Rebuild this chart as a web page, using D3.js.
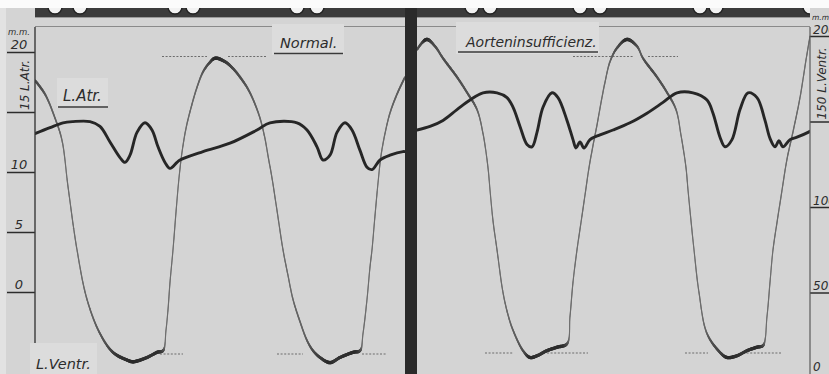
<!DOCTYPE html>
<html>
<head>
<meta charset="utf-8">
<script src="https://cdn.jsdelivr.net/npm/d3@7"></script>
<style>
  body { margin: 0; background: #fff; }
  svg { display: block; }
  text { font-family: "DejaVu Sans", sans-serif; font-style: italic; fill: #2c2c2c; }
</style>
</head>
<body>
<svg id="chart" width="829" height="374"></svg>
<script>
// time in ms from the left edge of each record, L.Atr. in mm, L.Ventr. in mm Hg

// "Normal." record
const normalAtrT = [0, 75, 140, 190, 275, 325, 375, 425, 450, 475, 510, 550, 585, 615, 650, 675, 710, 725, 840, 975,
  1110, 1175, 1310, 1360, 1410, 1440, 1475, 1510, 1550, 1585, 1625, 1660, 1685, 1725, 1775, 1840, 1850];
const normalAtr = [13.2, 13.7, 14.1, 14.2, 14.2, 13.8, 12.5, 11.2, 10.8, 11.4, 13.3, 14.1, 13.5, 12.1, 10.8, 10.3, 10.8, 11.0, 11.7, 12.4,
  13.5, 14.1, 14.1, 13.5, 12.1, 11.0, 11.4, 13.3, 14.1, 13.5, 11.8, 10.4, 10.2, 11.0, 11.4, 11.7, 11.7];

const normalVentrT = [0, 50, 100, 135, 165, 210, 260, 325, 390, 460, 490, 560, 610, 640, 655, 665, 675, 690, 705, 720,
  735, 755, 780, 810, 840, 870, 900, 950, 990, 1025, 1060, 1090, 1125, 1150, 1165, 1185, 1210, 1240, 1265, 1290,
  1325, 1360, 1390, 1425, 1475, 1525, 1590, 1625, 1640, 1660, 1675, 1685, 1700, 1715, 1730, 1750, 1775, 1810, 1850];
const normalVentr = [174, 166, 152, 139, 112, 75, 46, 26, 15, 10.5, 9.5, 12, 15, 16, 28, 40, 56, 75, 97, 117,
  132, 146, 158, 170, 179, 184, 187, 185, 181, 176, 170, 163, 152, 140, 130, 117, 98, 75, 60, 46,
  33, 22, 16, 12, 9, 12, 15, 16, 26, 46, 65, 75, 95, 114, 130, 143, 155, 166, 176];

// "Aorteninsufficienz." record
const aortaAtrT = [0, 65, 130, 200, 265, 330, 400, 450, 480, 515, 550, 575, 600, 630, 675, 705, 750, 780, 795, 815,
  835, 865, 915, 980, 1065, 1150, 1230, 1300, 1380, 1450, 1480, 1515, 1540, 1575, 1615, 1655, 1700, 1740, 1765, 1790,
  1810, 1830, 1865, 1900, 1955, 1965];
const aortaAtr = [13.5, 13.8, 14.3, 15.2, 16.0, 16.6, 16.6, 16.2, 15.4, 13.8, 12.3, 12.1, 13.3, 15.4, 16.6, 16.2, 14.3, 12.7, 12.0, 12.5,
  12.0, 12.7, 13.1, 13.5, 14.1, 14.9, 15.8, 16.6, 16.6, 16.0, 14.9, 12.9, 12.1, 12.7, 15.2, 16.6, 16.2, 14.3, 12.8, 12.1,
  12.6, 12.1, 12.7, 12.9, 13.3, 13.4];

const aortaVentrT = [0, 25, 50, 90, 130, 200, 250, 300, 330, 355, 365, 380, 400, 430, 455, 480, 530, 565, 600, 650,
  700, 750, 765, 780, 800, 820, 840, 860, 880, 900, 920, 940, 965, 1000, 1050, 1100, 1130, 1200, 1250, 1295,
  1320, 1345, 1355, 1370, 1385, 1410, 1450, 1515, 1550, 1600, 1650, 1700, 1730, 1750, 1765, 1780, 1800, 1820, 1850, 1880,
  1915, 1945, 1965];
const aortaVentr = [192, 196, 198, 194, 187, 176, 167, 157, 143, 123, 110, 92, 75, 50, 37, 28, 16, 12, 13, 16,
  18, 20, 36, 56, 75, 91, 107, 123, 136, 148, 161, 173, 185, 193, 198, 194, 187, 176, 167, 157,
  142, 123, 110, 92, 75, 50, 26, 15, 12, 13, 16, 18, 19, 36, 56, 75, 91, 106, 128, 144,
  164, 186, 200];

// time marker notches in the strip on top (ms)
const normalMarks = [100, 225, 700, 790, 1310, 1410];
const aortaMarks = [275, 365, 815, 915, 1415, 1495, 1965];

// dotted reference levels of the ventricle trace: [mm Hg, from ms, to ms]
const normalRefs = [[188, 635, 860], [188, 965, 1160], [14, 625, 740], [14, 1210, 1340], [14, 1635, 1760]];
const aortaRefs = [[188, 780, 1080], [188, 1155, 1305], [14.6, 340, 480], [14.6, 650, 855], [14.6, 1340, 1455], [14.6, 1630, 1825]];

const atrTicks = [0, 5, 10, 15, 20];
const ventrTicks = [0, 50, 100, 150, 200];

const svg = d3.select('#chart');
const W = 829, H = 374;

const atrY = d3.scaleLinear().domain([0, 20]).range([292, 52]);
const ventrY = d3.scaleLinear().domain([0, 200]).range([378, 36]);
const xNormal = d3.scaleLinear().domain([0, 1850]).range([35, 405]);
const xAorta = d3.scaleLinear().domain([0, 1965]).range([417, 810]);

// paper
svg.append('rect').attr('width', W).attr('height', H).attr('fill', '#d4d4d4');
svg.append('rect').attr('width', W).attr('height', 8).attr('fill', '#fbfbfb');
svg.append('rect').attr('y', 8).attr('width', 6).attr('height', H).attr('fill', '#e2e2e2');

const defs = svg.append('defs');
defs.append('clipPath').attr('id', 'clipStrip')
  .append('rect').attr('x', 35).attr('y', 8).attr('width', 775).attr('height', 9);
defs.append('clipPath').attr('id', 'clipNormal')
  .append('rect').attr('x', 35).attr('y', 17).attr('width', 370).attr('height', H);
defs.append('clipPath').attr('id', 'clipAorta')
  .append('rect').attr('x', 417).attr('y', 17).attr('width', 393).attr('height', H);

// time strip
svg.append('rect').attr('x', 35).attr('y', 8).attr('width', 775).attr('height', 9).attr('fill', '#3b3b3b');
const strip = svg.append('g').attr('clip-path', 'url(#clipStrip)');
[[normalMarks, xNormal], [aortaMarks, xAorta]].forEach(([marks, x]) => {
  strip.selectAll(null).data(marks).join('circle')
    .attr('cx', d => x(d)).attr('cy', 7).attr('r', 7)
    .attr('fill', '#f2f2f2').attr('stroke', '#222').attr('stroke-width', 1.4);
});
svg.append('line').attr('x1', 35).attr('x2', 810).attr('y1', 17.5).attr('y2', 17.5)
  .attr('stroke', '#9a9a9a').attr('stroke-width', 1);

// thin line under the strip
svg.append('line').attr('x1', 35).attr('x2', 810).attr('y1', 26.5).attr('y2', 26.5)
  .attr('stroke', '#8a8a8a').attr('stroke-width', 1.2);

function drawRefs(g, x, refs) {
  g.selectAll(null).data(refs).join('line')
    .attr('x1', d => x(d[1])).attr('x2', d => x(d[2]))
    .attr('y1', d => ventrY(d[0])).attr('y2', d => ventrY(d[0]))
    .attr('stroke', '#6c6c6c').attr('stroke-width', 1.1).attr('stroke-dasharray', '2,1.6');
}

function drawAtr(g, x, t, v) {
  const line = d3.line().x((d, i) => x(t[i])).y(d => atrY(d)).curve(d3.curveCatmullRom.alpha(0.5));
  g.append('path').attr('d', line(v)).attr('fill', 'none')
    .attr('stroke', '#262626').attr('stroke-width', 2.9)
    .attr('stroke-linejoin', 'round').attr('stroke-linecap', 'round');
}

// the ventricle pen writes darker where it moves slowly
function drawVentr(g, x, t, v) {
  const line = d3.line().x((d, i) => x(t[i])).y(d => ventrY(d)).curve(d3.curveCatmullRom.alpha(0.5));
  const node = g.append('path').attr('d', line(v)).attr('fill', 'none').attr('stroke', 'none').node();
  const len = node.getTotalLength();
  const pts = d3.range(0, len, 1).map(l => node.getPointAtLength(l));
  pts.push(node.getPointAtLength(len));
  const k = 4;
  const segs = d3.pairs(pts).map((p, i) => {
    const a = pts[Math.max(0, i - k)], b = pts[Math.min(pts.length - 1, i + 1 + k)];
    const s = Math.abs(b.y - a.y) / Math.max(Math.abs(b.x - a.x), 0.01);
    const w = 1 / (1 + (s / 1.3) * (s / 1.3));
    return { p, w };
  });
  const col = d3.interpolateRgb('#6e6e6e', '#2a2a2a');
  g.selectAll(null).data(segs).join('line')
    .attr('x1', d => d.p[0].x).attr('y1', d => d.p[0].y)
    .attr('x2', d => d.p[1].x).attr('y2', d => d.p[1].y)
    .attr('stroke', d => col(d.w))
    .attr('stroke-width', d => 1.1 + 2.3 * d.w)
    .attr('stroke-linecap', 'round');
}

const gN = svg.append('g').attr('clip-path', 'url(#clipNormal)');
drawRefs(gN, xNormal, normalRefs);
drawVentr(gN, xNormal, normalVentrT, normalVentr);
drawAtr(gN, xNormal, normalAtrT, normalAtr);

const gA = svg.append('g').attr('clip-path', 'url(#clipAorta)');
drawRefs(gA, xAorta, aortaRefs);
drawVentr(gA, xAorta, aortaVentrT, aortaVentr);
drawAtr(gA, xAorta, aortaAtrT, aortaAtr);

// glued-on labels
function label(x, y, w, h, txt, tx, ty, size, ux0, ux1, uy) {
  const g = svg.append('g');
  g.append('rect').attr('x', x).attr('y', y).attr('width', w).attr('height', h).attr('fill', '#dcdcdc');
  if (uy) g.append('line').attr('x1', ux0).attr('x2', ux1).attr('y1', uy).attr('y2', uy)
    .attr('stroke', '#3a3a3a').attr('stroke-width', 1.3);
  g.append('text').attr('x', tx).attr('y', ty).attr('font-size', size).text(txt);
}
label(272, 24, 72, 31, 'Normal.', 280, 48, 14.5, 274, 343, 53.5);
label(456, 22, 143, 32, 'Aorteninsufficienz.', 466, 47, 14, 458, 598, 52);
label(57, 78, 51, 30, 'L.Atr.', 63, 101, 15, 58, 108, 107);
label(30, 343, 67, 31, 'L.Ventr.', 36, 369, 14.5);

// left axis (L.Atr., mm)
const axL = svg.append('g').attr('transform', 'translate(35,0)')
  .call(d3.axisLeft(atrY).tickValues(atrTicks).tickSize(28).tickSizeOuter(0));
axL.select('.domain').remove();
axL.selectAll('.tick line').attr('stroke', '#2c2c2c').attr('stroke-width', 1.5);
axL.selectAll('.tick text')
  .attr('x', -16).attr('y', -4).attr('dy', 0).attr('text-anchor', 'middle')
  .attr('font-size', 13).attr('font-family', null).attr('fill', null)
  .text(d => d === 15 ? '' : d);
svg.append('line').attr('x1', 35).attr('x2', 35).attr('y1', 27).attr('y2', 343)
  .attr('stroke', '#3a3a3a').attr('stroke-width', 1.4);
svg.append('text').attr('x', 8).attr('y', 35).attr('font-size', 8.5).text('m.m.');
svg.append('text').attr('transform', `translate(29,${atrY(15) - 2}) rotate(-90)`)
  .attr('font-size', 12).text('15 L.Atr.');

// right axis (L.Ventr., mm Hg)
const axR = svg.append('g').attr('transform', 'translate(810,0)')
  .call(d3.axisRight(ventrY).tickValues(ventrTicks).tickSize(19).tickSizeOuter(0));
axR.select('.domain').remove();
axR.selectAll('.tick line').attr('stroke', '#2c2c2c').attr('stroke-width', 1.5);
axR.selectAll('.tick text')
  .attr('x', 3).attr('y', d => d === 0 ? -8 : -3).attr('dy', 0).attr('text-anchor', 'start')
  .attr('font-size', 12).attr('font-family', null).attr('fill', null)
  .text(d => d === 150 ? '' : d);
svg.append('line').attr('x1', 810).attr('x2', 810).attr('y1', 27).attr('y2', H)
  .attr('stroke', '#5a5a5a').attr('stroke-width', 1.2);
svg.append('text').attr('x', 812).attr('y', 20).attr('font-size', 7.5).text('m.m.');
svg.append('text').attr('transform', `translate(826,${ventrY(150) - 2}) rotate(-90)`)
  .attr('font-size', 12).text('150 L.Ventr.');

// divider between the two records
svg.append('rect').attr('x', 405).attr('y', 8).attr('width', 12).attr('height', H).attr('fill', '#2a2a2a');
</script>
</body>
</html>
